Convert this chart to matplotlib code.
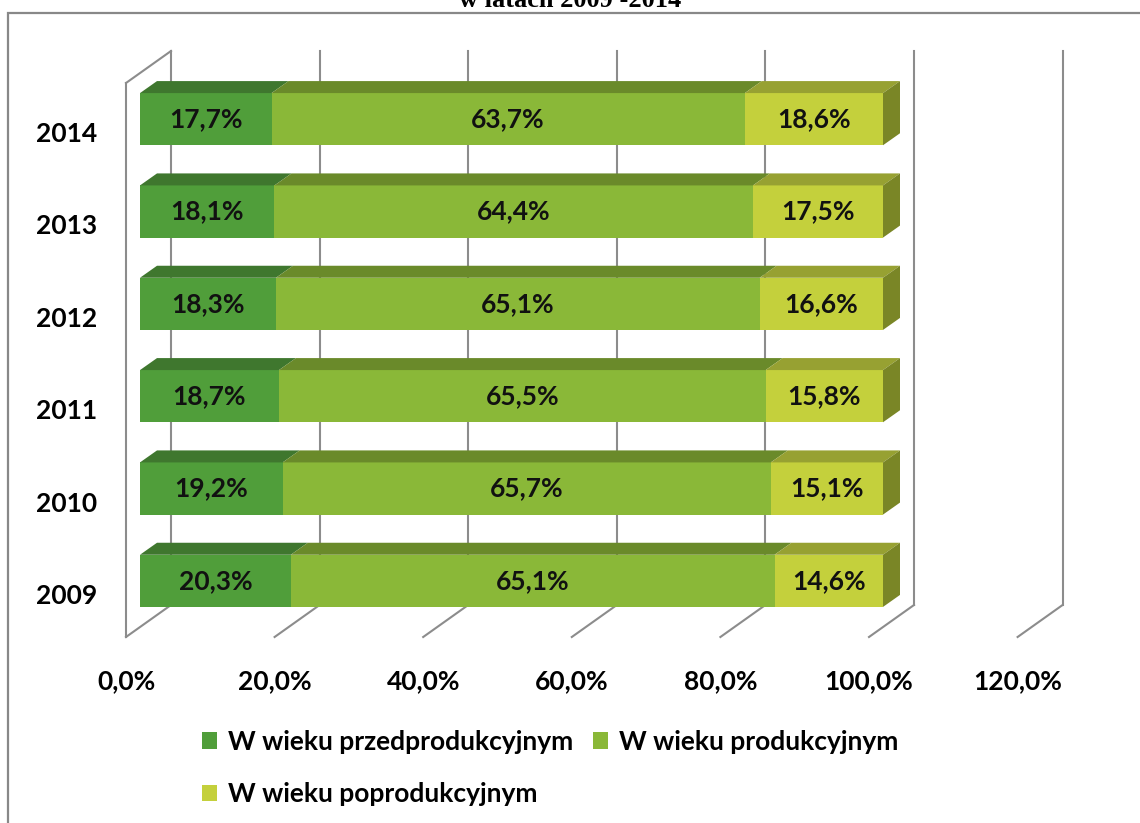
import matplotlib
matplotlib.use("Agg")
import matplotlib.pyplot as plt
from matplotlib.patches import Polygon, Patch, Rectangle
from matplotlib.lines import Line2D
from matplotlib.transforms import ScaledTranslation, IdentityTransform

# ---- data ----
years = ["2009", "2010", "2011", "2012", "2013", "2014"]
przed = [20.3, 19.2, 18.7, 18.3, 18.1, 17.7]
prod = [65.1, 65.7, 65.5, 65.1, 64.4, 63.7]
poprod = [14.6, 15.1, 15.8, 16.6, 17.5, 18.6]
series_names = ["W wieku przedprodukcyjnym", "W wieku produkcyjnym", "W wieku poprodukcyjnym"]
x_ticks = [0, 20, 40, 60, 80, 100, 120]
x_tick_labels = ["0,0%", "20,0%", "40,0%", "60,0%", "80,0%", "100,0%", "120,0%"]
title = "w latach 2009 -2014"

# ---- style ----
front_cols = ["#509E3A", "#8AB838", "#C4D03C"]
top_cols = ["#3F772E", "#6A8A2A", "#97A132"]
side_col = "#7A8626"
grid_col = "#8C8C8C"
FONT = "Lato"
FS = 19

W, H = 1140, 823
fig = plt.figure(figsize=(W / 100, H / 100), dpi=100)
ax = fig.add_axes([140 / W, (H - 627) / H, 891.6 / W, 554 / H])
ax.set_xlim(0, 120)
ax.set_ylim(-0.5, 5.5)
for s in ax.spines.values():
    s.set_visible(False)
ax.patch.set_alpha(0)

ds = fig.dpi_scale_trans
front_t = ax.transData + ScaledTranslation(-14 / 100, -10 / 100, ds)
back_t = ax.transData + ScaledTranslation(31 / 100, 22 / 100, ds)
bdx, bdy = 17, 12  # bar depth in pixels

lw = 1.5
# back wall gridlines and floor diagonals
for xv in x_ticks:
    ax.plot([xv, xv], [-0.5, 5.5], transform=back_t, color=grid_col, lw=lw, zorder=1, clip_on=False)
    p1 = front_t.transform((xv, -0.5))
    p2 = back_t.transform((xv, -0.5))
    ax.add_line(Line2D([p1[0], p2[0]], [p1[1], p2[1]], transform=IdentityTransform(),
                       color=grid_col, lw=lw, zorder=1, clip_on=False))
# left wall
ax.plot([0, 0], [-0.5, 5.5], transform=front_t, color=grid_col, lw=lw, zorder=1, clip_on=False)
p1 = front_t.transform((0, 5.5))
p2 = back_t.transform((0, 5.5))
ax.add_line(Line2D([p1[0], p2[0]], [p1[1], p2[1]], transform=IdentityTransform(),
                   color=grid_col, lw=lw, zorder=1, clip_on=False))

# bars
ypos = list(range(len(years)))
hgt = 0.565
series = [przed, prod, poprod]
lefts = [0.0] * len(years)
for si, vals in enumerate(series):
    ax.barh(ypos, vals, left=lefts, height=hgt, color=front_cols[si], zorder=3, linewidth=0)
    for i, (l, v) in enumerate(zip(lefts, vals)):
        tl = ax.transData.transform((l, i + hgt / 2))
        tr = ax.transData.transform((l + v, i + hgt / 2))
        br = ax.transData.transform((l + v, i - hgt / 2))
        top = Polygon([tl, tr, (tr[0] + bdx, tr[1] + bdy), (tl[0] + bdx, tl[1] + bdy)],
                      closed=True, transform=IdentityTransform(), facecolor=top_cols[si],
                      edgecolor="none", zorder=3)
        ax.add_patch(top)
        if si == len(series) - 1:
            side = Polygon([br, tr, (tr[0] + bdx, tr[1] + bdy), (br[0] + bdx, br[1] + bdy)],
                           closed=True, transform=IdentityTransform(), facecolor=side_col,
                           edgecolor="none", zorder=3)
            ax.add_patch(side)
        ax.text(l + v / 2, i, f"{v:.1f}%".replace(".", ","), ha="center", va="center",
                fontsize=FS, fontweight="bold", family=FONT, color="#111111", zorder=5)
    lefts = [a + b for a, b in zip(lefts, vals)]

# ticks
ax.set_yticks(ypos)
ax.set_yticklabels(years, fontsize=FS, fontweight="bold", family=FONT)
ax.tick_params(axis="y", length=0, pad=31)
for lab in ax.get_yticklabels():
    lab.set_transform(lab.get_transform() + ScaledTranslation(0, -13 / 100, ds))
ax.set_xticks(x_ticks)
ax.set_xticklabels(x_tick_labels, fontsize=FS, fontweight="bold", family=FONT)
ax.tick_params(axis="x", length=0, pad=30)
for lab in ax.get_xticklabels():
    lab.set_transform(lab.get_transform() + ScaledTranslation(-14 / 100, 0, ds))

# legend (row-major order)
handles = [Patch(facecolor=c, edgecolor="none") for c in front_cols]
order = [0, 2, 1]
fig.legend([handles[k] for k in order], [series_names[k] for k in order], ncol=2,
           loc="upper left", bbox_to_anchor=(202 / W, 1 - 730 / H), frameon=False,
           prop={"family": FONT, "size": FS, "weight": "bold"},
           handlelength=0.58, handleheight=0.58, handletextpad=0.42,
           columnspacing=0.73, labelspacing=1.08, borderpad=0, borderaxespad=0)

# title (cut at top) and frame
fig.text(0.5, 1 - 7 / H, title, ha="center", va="baseline", fontsize=19,
         fontweight="bold", family="Liberation Serif")
fig.add_artist(Rectangle((8 / W, -0.1), 1.2, 1 - 13 / H + 0.1, transform=fig.transFigure,
                         fill=False, edgecolor="#888888", lw=1.6, clip_on=False))

fig.savefig("out.png", dpi=100)
